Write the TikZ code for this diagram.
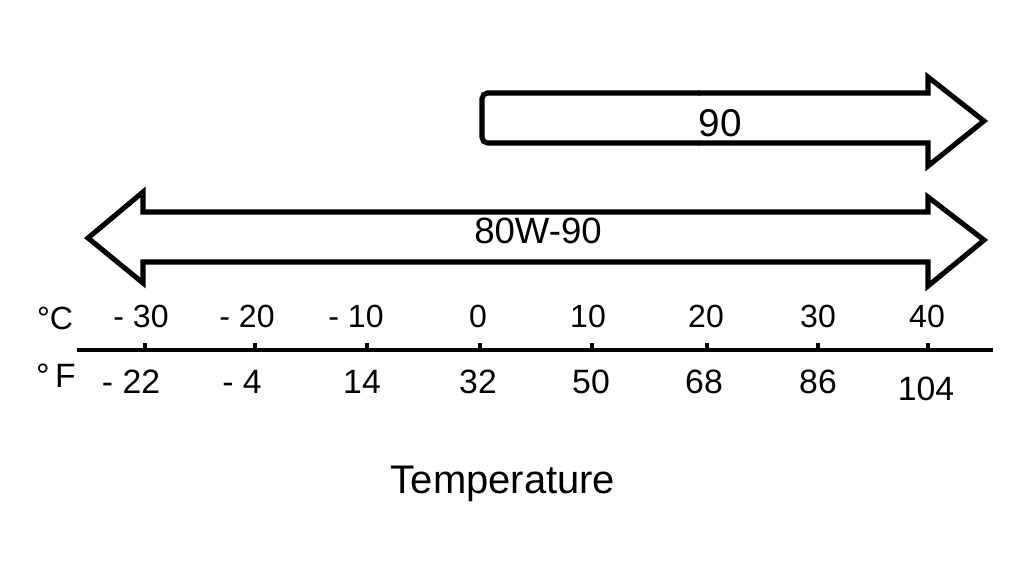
\documentclass[tikz,border=0pt]{standalone}
\usepackage{fontspec}
\setmainfont{Liberation Sans}

\begin{document}
\begin{tikzpicture}[x=0.025cm,y=-0.025cm,
  outline/.style={line width=3.6pt, line join=miter},
  ticmark/.style={line width=3.4pt},
  clabel/.style={anchor=base, inner sep=0pt, font=\fontsize{22.8}{24}\selectfont},
  flabel/.style={anchor=base, inner sep=0pt, font=\fontsize{24}{26}\selectfont},
  oillabel/.style={anchor=base, inner sep=0pt, font=\fontsize{26}{28}\selectfont}]

 \useasboundingbox (0,0) rectangle (1031,577);

 % arrow 90
 \draw[outline, rounded corners=4pt] (700,93) -- (482,93) -- (482,143) -- (700,143);
 \draw[outline] (698,93) -- (928,93) -- (928,77) -- (984,121) -- (928,166)
   -- (928,143) -- (698,143);

 % arrow 80W-90
 \draw[outline] (143,212) -- (928,212) -- (928,197) -- (984,240) -- (928,286)
   -- (928,262) -- (143,262) -- (143,283) -- (88,238) -- (143,192) -- cycle;

 % axis
 \coordinate (axL) at (77,350);
 \coordinate (axR) at (993,350);
 \draw[line width=2.8pt] (axL) -- (axR);

 \draw[ticmark] (145,350) -- (145,343);
 \draw[ticmark] (255,350) -- (255,343);
 \draw[ticmark] (367,350) -- (367,343);
 \draw[ticmark] (480,350) -- (480,343);
 \draw[ticmark] (592,350) -- (592,343);
 \draw[ticmark] (707,350) -- (707,343);
 \draw[ticmark] (818,350) -- (818,343);
 \draw[ticmark] (928,350) -- (928,343);

 % legend
 \node[oillabel, font=\fontsize{27.5}{29}\selectfont] (ninety) at (720,137) {90};
 \node[oillabel] (eightyw) at (538,243) {80W-90};

 \node[clabel] (degc) at (55,329) {°C};
 \node[flabel] (degf) at (56,387) {°\,F};

 \node[clabel] (cm30) at (141,327) {- 30};
 \node[clabel] (cm20) at (247,327) {- 20};
 \node[clabel] (cm10) at (356,327) {- 10};
 \node[clabel] (c0)   at (478,327) {0};
 \node[clabel] (c10)  at (588,327) {10};
 \node[clabel] (c20)  at (706,327) {20};
 \node[clabel] (c30)  at (818,327) {30};
 \node[clabel] (c40)  at (927,327) {40};

 \node[flabel] (fm22) at (131,393) {- 22};
 \node[flabel] (fm4)  at (242,393) {- 4};
 \node[flabel] (f14)  at (362,393) {14};
 \node[flabel] (f32)  at (478,393) {32};
 \node[flabel] (f50)  at (591,393) {50};
 \node[flabel] (f68)  at (704,393) {68};
 \node[flabel] (f86)  at (818,393) {86};
 \node[flabel] (f104) at (926,400) {104};

 \node[anchor=base, inner sep=0pt, font=\fontsize{28.4}{30}\selectfont] (temp) at (503,493) {Temperature};

\end{tikzpicture}
\end{document}
